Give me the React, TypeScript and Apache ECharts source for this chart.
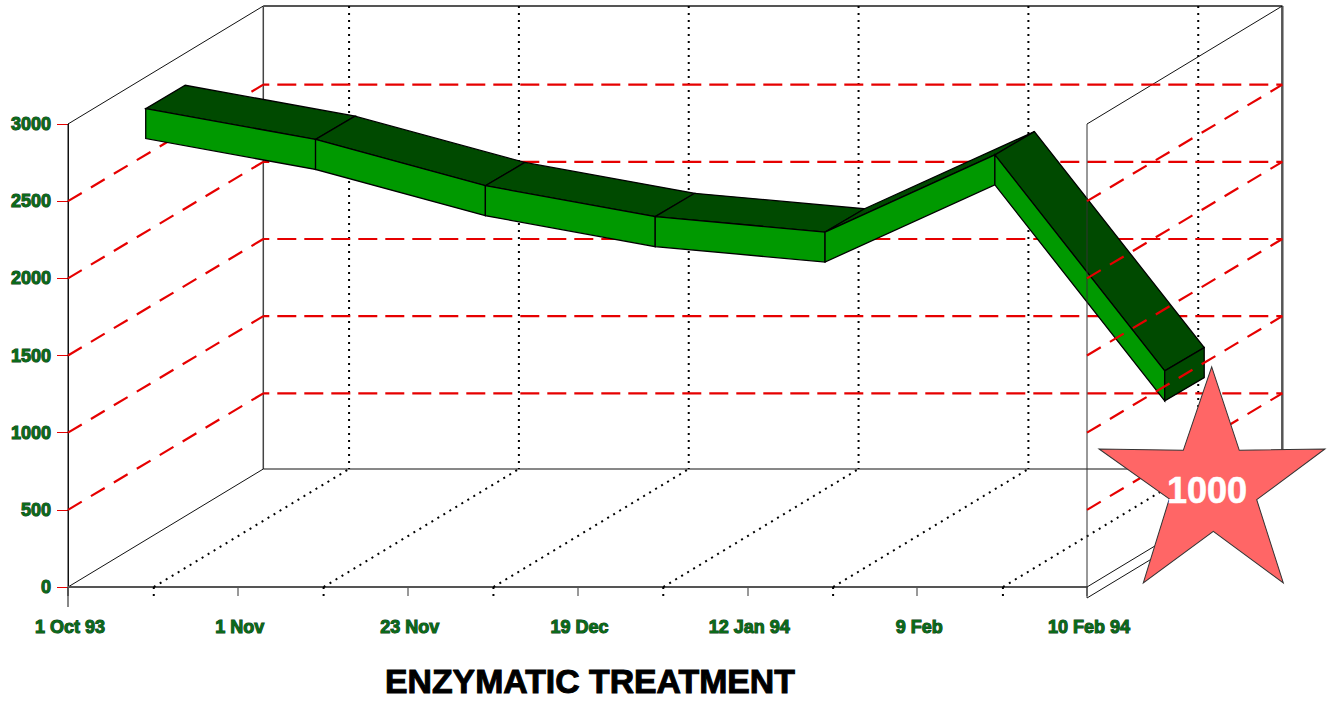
import React, { useEffect, useRef } from "react";
import * as echarts from "echarts";

const xLabels = ["1 Oct 93", "1 Nov", "23 Nov", "19 Dec", "12 Jan 94", "9 Feb", "10 Feb 94"];
const treatmentValues = [3100, 2900, 2600, 2400, 2300, 2800, 1400];
const gridValues = [500, 1000, 1500, 2000, 2500];
const dottedPositions = [0.505, 1.505, 2.505, 3.505, 4.505, 5.505];
const starPoint = [[6.736, 726]];
const starLabel = "1000";
const titleText = "ENZYMATIC TREATMENT";

const FONT = "'Liberation Sans', Arial, sans-serif";
const DX = 195.3;
const DY = -118;
const GRID_DY = -116.5;
const RIBBON_SHIFT = -7.2;
const RIBBON_DX = 39.5;
const RIBBON_DY = -23.3;
const RIBBON_H = 30;
const STAR_PATH =
  "path://M112.7 0.3L140.3 83.7L226 82.3L157.7 133L184.3 216.3L114.3 164.7L44.3 216.3L70.3 132.3L0 82.3L84.3 83.7Z";

function line(a: number[], b: number[], style: any) {
  return {
    type: "line",
    shape: { x1: a[0], y1: a[1], x2: b[0], y2: b[1] },
    style: { fill: null, ...style },
  };
}

const redDiag = { stroke: "#e60000", lineWidth: 2.2, lineDash: [16, 10.7] };
const redFlat = { stroke: "#e60000", lineWidth: 2.2, lineDash: [19, 8], lineDashOffset: 13 };
const dotted = { stroke: "#000", lineWidth: 2, lineDash: [2, 5] };
const thin = { stroke: "#111", lineWidth: 1 };
const heavy = { stroke: "#555", lineWidth: 2 };

function renderBack(_p: any, api: any) {
  const c = (x: number, v: number) => api.coord([x, v]);
  const off = (p: number[], dy = DY) => [p[0] + DX, p[1] + dy];
  const children: any[] = [];
  const o = c(0, 0);
  const t = c(0, 3000);
  const r = c(6, 0);
  const rt = c(6, 3000);
  children.push(line(off(t), off(o), { stroke: "#444", lineWidth: 1.5 }));
  children.push(line(t, off(t), thin));
  children.push(line(o, off(o), thin));
  children.push(line(off(t), off(rt), heavy));
  children.push(line(off(o), off(r), thin));
  children.push(line(off(rt), off(r), { stroke: "#555", lineWidth: 2.5 }));
  children.push(line(rt, off(rt), thin));
  children.push(line(r, off(r), thin));
  children.push(line([r[0], r[1] + 11], [r[0] + DX, r[1] + 11 + DY], thin));
  children.push(line([o[0], t[1]], [o[0], o[1] + 20], thin));
  children.push(line(o, r, heavy));
  dottedPositions.forEach((x) => {
    const b = c(x, 0);
    const bt = c(x, 3000);
    children.push(line(b, off(b), dotted));
    children.push(line(off(bt), off(b), dotted));
    children.push(line(b, [b[0], b[1] + 11], dotted));
  });
  gridValues.forEach((v) => {
    const a = c(0, v);
    const e = c(6, v);
    children.push(line(a, off(a, GRID_DY), redDiag));
    children.push(line(off(a, GRID_DY), off(e, GRID_DY), redFlat));
  });
  return { type: "group", children };
}

function renderRibbon(_p: any, api: any) {
  const i = api.value(0);
  const p0 = api.coord([i + 0.5, api.value(1)]);
  const p1 = api.coord([i + 1.5, api.value(2)]);
  const a = [p0[0] + RIBBON_SHIFT, p0[1]];
  const b = [p1[0] + RIBBON_SHIFT, p1[1]];
  const back = (p: number[]) => [p[0] + RIBBON_DX, p[1] + RIBBON_DY];
  const down = (p: number[]) => [p[0], p[1] + RIBBON_H];
  const stroke = { stroke: "#000", lineWidth: 1.3 };
  const children: any[] = [
    {
      type: "polygon",
      shape: { points: [a, b, back(b), back(a)] },
      style: { fill: "#004a00", ...stroke },
    },
    {
      type: "polygon",
      shape: { points: [a, b, down(b), down(a)] },
      style: { fill: "#009900", ...stroke },
    },
  ];
  if (i === treatmentValues.length - 2) {
    children.push({
      type: "polygon",
      shape: { points: [b, back(b), down(back(b)), down(b)] },
      style: { fill: "#004a00", ...stroke },
    });
  }
  return { type: "group", children };
}

function renderFront(_p: any, api: any) {
  const children: any[] = [];
  const r = api.coord([6, 0]);
  const rt = api.coord([6, 3000]);
  children.push(line(rt, [r[0], r[1] + 11], { stroke: "#333", lineWidth: 1 }));
  gridValues.forEach((v) => {
    const a = api.coord([6, v]);
    children.push(line(a, [a[0] + DX, a[1] + GRID_DY], redDiag));
  });
  return { type: "group", children };
}

const ribbonData = treatmentValues.slice(0, -1).map((v, i) => [i, v, treatmentValues[i + 1]]);

export default function App() {
  const ref = useRef<HTMLDivElement>(null);
  useEffect(() => {
    if (!ref.current) return;
    const chart = echarts.init(ref.current, null, { renderer: "svg" });
    chart.setOption({
      animation: false,
      backgroundColor: "#fff",
      title: {
        text: titleText,
        left: 380,
        top: 659,
        textStyle: {
          fontFamily: FONT,
          fontSize: 33.8,
          fontWeight: "bold",
          color: "#000",
          textBorderColor: "#000",
          textBorderWidth: 1,
        },
      },
      grid: { left: 68, top: 124, width: 1019, height: 463, containLabel: false },
      xAxis: {
        type: "value",
        min: 0,
        max: 6,
        interval: 1,
        offset: 11,
        splitLine: { show: false },
        axisLine: { show: true, lineStyle: { color: "#000", width: 1 } },
        axisTick: { show: true, length: 9, lineStyle: { color: "#777", width: 1.5 } },
        axisLabel: {
          margin: 20,
          padding: [0, 0, 0, 4],
          fontFamily: FONT,
          fontSize: 18,
          fontWeight: "bold",
          color: "#0b6a1a",
          textBorderColor: "#0b4012",
          textBorderWidth: 1,
          formatter: (v: number) => xLabels[v] ?? "",
        },
      },
      yAxis: {
        type: "value",
        min: 0,
        max: 3000,
        interval: 500,
        splitLine: { show: false },
        axisLine: { show: true, lineStyle: { color: "#111", width: 1 } },
        axisTick: { show: true, length: 11, lineStyle: { color: "#e60000", width: 1 } },
        axisLabel: {
          margin: 17,
          padding: [7, 0, 0, 0],
          fontFamily: FONT,
          fontSize: 18,
          fontWeight: "bold",
          color: "#0b6a1a",
          textBorderColor: "#0b4012",
          textBorderWidth: 1,
          formatter: (v: number) => String(v),
        },
      },
      series: [
        {
          type: "custom",
          name: "frame",
          coordinateSystem: "cartesian2d",
          renderItem: renderBack,
          data: [[0, 0]],
          encode: { x: 0, y: 1 },
          silent: true,
          clip: false,
          z: 1,
        },
        {
          type: "custom",
          name: "treatment",
          coordinateSystem: "cartesian2d",
          renderItem: renderRibbon,
          data: ribbonData,
          encode: { x: 0, y: 1 },
          clip: false,
          z: 2,
        },
        {
          type: "custom",
          name: "right wall",
          coordinateSystem: "cartesian2d",
          renderItem: renderFront,
          data: [[0, 0]],
          encode: { x: 0, y: 1 },
          silent: true,
          clip: false,
          z: 3,
        },
        {
          type: "scatter",
          name: "star",
          data: starPoint,
          symbol: STAR_PATH,
          symbolSize: [226, 216],
          symbolKeepAspect: false,
          clip: false,
          z: 4,
          itemStyle: { color: "#ff6666", borderColor: "#333", borderWidth: 1, opacity: 1 },
          label: {
            show: true,
            position: "inside",
            offset: [-5, 16],
            formatter: starLabel,
            fontFamily: "Liberation Sans",
            fontSize: 36,
            fontWeight: "bold",
            color: "#fff",
            textBorderColor: "#fff",
            textBorderWidth: 0.6,
          },
        },
      ],
    });
    return () => chart.dispose();
  }, []);
  return (
    <div
      ref={ref}
      style={{ position: "fixed", left: 0, top: 0, width: 1328, height: 702, background: "#fff" }}
    />
  );
}
